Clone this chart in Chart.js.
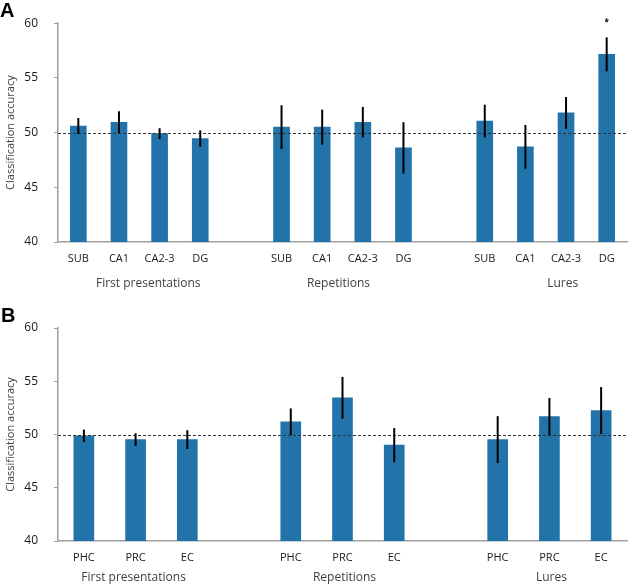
<!DOCTYPE html>
<html>
<head>
<meta charset="utf-8">
<script src="https://cdn.jsdelivr.net/npm/chart.js@4.4.1/dist/chart.umd.min.js"></script>
<style>
  html, body { margin: 0; padding: 0; background: #fff; }
  #wrap { position: relative; width: 640px; height: 587px; }
  .panel { position: absolute; left: 0; width: 640px; }
  .tag { position: absolute; left: 0; font: bold 20px/20px "Liberation Sans", Arial, sans-serif; color: #000; }
</style>
</head>
<body>
<div id="wrap">
  <div class="panel" style="top:0;height:293px"><canvas id="chartA"></canvas></div>
  <div class="panel" style="top:293px;height:294px"><canvas id="chartB"></canvas></div>
  <div class="tag" style="top:0px">A</div>
  <div class="tag" style="top:305px;left:1px">B</div>
</div>
<script>
// ---- data ----
const conditions = ['First presentations', 'Repetitions', 'Lures'];
const yTicks = [40, 45, 50, 55, 60];
const chanceLevel = 50;

// panel A: hippocampal subfields
const hippoRegions = ['SUB', 'CA1', 'CA2-3', 'DG'];
const hippoFirst = [50.6, 50.95, 49.9, 49.45];
const hippoRep = [50.5, 50.5, 50.95, 48.6];
const hippoLures = [51.05, 48.7, 51.8, 57.15];
const hippoFirstErr = [0.73, 1.0, 0.5, 0.75];
const hippoRepErr = [2.0, 1.6, 1.4, 2.35];
const hippoLuresErr = [1.5, 2.0, 1.45, 1.55];
const hippoLuresSig = [false, false, false, true];

// panel B: MTL cortex
const mtlRegions = ['PHC', 'PRC', 'EC'];
const mtlFirst = [49.88, 49.52, 49.52];
const mtlRep = [51.2, 53.45, 49.0];
const mtlLures = [49.52, 51.68, 52.25];
const mtlFirstErr = [0.58, 0.6, 0.88];
const mtlRepErr = [1.25, 1.96, 1.6];
const mtlLuresErr = [2.2, 1.75, 2.2];

const barColor = '#2173a9';
const axisColor = '#a0a0a0';
const textColor = '#404040';
const fontFamily = '"Open Sans", "Noto Sans", sans-serif';

// flatten groups into one category axis, with an empty slot between groups
function flatten(regions, groups) {
    const labels = [], values = [], groupIdx = [];
    groups.forEach((vals, g) => {
        if (g > 0) { labels.push(''); values.push(null); }
        const start = labels.length;
        regions.forEach((r, i) => { labels.push(r); values.push(vals[i]); });
        groupIdx.push((start + labels.length - 1) / 2);
    });
    return { labels, values, groupIdx };
}

// draws chance line, error bars, group names and significance marks
const extrasPlugin = {
    id: 'extras',
    afterDatasetsDraw(chart, args, opts) {
        const ctx = chart.ctx;
        const x = chart.scales.x, y = chart.scales.y;
        const area = chart.chartArea;

        // chance line
        ctx.save();
        ctx.strokeStyle = '#333';
        ctx.lineWidth = 1;
        ctx.setLineDash([3, 2]);
        ctx.beginPath();
        const yc = Math.round(y.getPixelForValue(chanceLevel)) + 0.5;
        ctx.moveTo(area.left, yc);
        ctx.lineTo(area.right, yc);
        ctx.stroke();
        ctx.restore();

        // error bars
        ctx.save();
        ctx.strokeStyle = '#000';
        ctx.lineWidth = 2;
        opts.values.forEach((v, i) => {
            if (v === null) return;
            const e = opts.errors[i];
            const px = x.getPixelForValue(i);
            ctx.beginPath();
            ctx.moveTo(px, y.getPixelForValue(v + e));
            ctx.lineTo(px, y.getPixelForValue(v - e));
            ctx.stroke();
        });
        ctx.restore();

        // significance
        ctx.save();
        ctx.fillStyle = '#000';
        ctx.font = 'bold 8px ' + fontFamily;
        ctx.textAlign = 'center';
        ctx.textBaseline = 'middle';
        opts.sig.forEach((s, i) => {
            if (!s) return;
            ctx.fillText('*', x.getPixelForValue(i), y.getPixelForValue(opts.values[i] + opts.errors[i]) - 15);
        });
        ctx.restore();

        // group names under the axis
        ctx.save();
        ctx.fillStyle = textColor;
        ctx.font = '12px ' + fontFamily;
        ctx.textAlign = 'center';
        ctx.textBaseline = 'middle';
        opts.groupIdx.forEach((gi, g) => {
            ctx.fillText(conditions[g], x.getPixelForValue(gi) + (opts.groupShift[g] || 0), area.bottom + opts.groupGap);
        });
        ctx.restore();
    }
};

function makeChart(id, flat, errs, sig, cfg) {
    return new Chart(document.getElementById(id), {
        type: 'bar',
        data: {
            labels: flat.labels,
            datasets: [{
                data: flat.values,
                backgroundColor: barColor,
                barThickness: cfg.barWidth
            }]
        },
        plugins: [extrasPlugin],
        options: {
            responsive: true,
            maintainAspectRatio: false,
            animation: false,
            layout: { padding: { top: cfg.top, right: 13, left: 0, bottom: 0 } },
            plugins: {
                legend: { display: false },
                tooltip: { enabled: false },
                extras: {
                    values: flat.values,
                    errors: errs,
                    sig: sig,
                    groupIdx: flat.groupIdx,
                    groupShift: cfg.groupShift,
                    groupGap: cfg.groupGap
                }
            },
            scales: {
                x: {
                    grid: { display: false, drawTicks: false },
                    border: { color: axisColor, width: 1.5 },
                    ticks: {
                        padding: 10,
                        color: '#1a1a1a',
                        font: { family: fontFamily, size: 11 },
                        maxRotation: 0,
                        autoSkip: false
                    },
                    afterFit(scale) { scale.height = cfg.xHeight; }
                },
                y: {
                    min: yTicks[0],
                    max: yTicks[yTicks.length - 1],
                    afterBuildTicks(scale) { scale.ticks = yTicks.map(v => ({ value: v })); },
                    grid: { drawOnChartArea: false, tickLength: 4, color: axisColor },
                    border: { color: axisColor, width: 1.5 },
                    ticks: {
                        padding: 16,
                        color: '#1a1a1a',
                        font: { family: fontFamily, size: 12 }
                    },
                    title: {
                        display: true,
                        text: 'Classification accuracy',
                        color: textColor,
                        font: { family: fontFamily, size: 11 },
                        padding: { top: 4, bottom: 0 }
                    },
                    afterFit(scale) { scale.width = 58; }
                }
            }
        }
    });
}

const flatA = flatten(hippoRegions, [hippoFirst, hippoRep, hippoLures]);
const errA = flatten(hippoRegions, [hippoFirstErr, hippoRepErr, hippoLuresErr]).values;
const sigA = flatten(hippoRegions, [[false, false, false, false], [false, false, false, false], hippoLuresSig]).values;
makeChart('chartA', flatA, errA, sigA, { top: 14, xHeight: 51, barWidth: 16, groupGap: 42, groupShift: [9, -4, 17] });

const flatB = flatten(mtlRegions, [mtlFirst, mtlRep, mtlLures]);
const errB = flatten(mtlRegions, [mtlFirstErr, mtlRepErr, mtlLuresErr]).values;
makeChart('chartB', flatB, errB, [], { top: 35, xHeight: 46, barWidth: 20, groupGap: 37, groupShift: [-2, 2, 2] });
</script>
</body>
</html>
